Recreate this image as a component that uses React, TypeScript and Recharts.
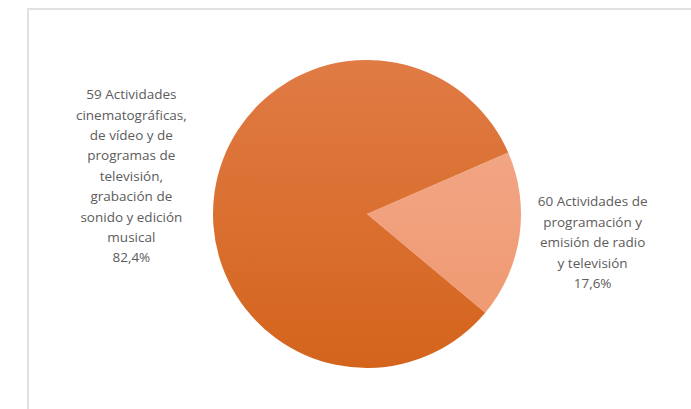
import { PieChart, Pie, Cell } from 'recharts'

const RADIAN = Math.PI / 180

const names = [
  '60 Actividades de programación y emisión de radio y televisión',
  '59 Actividades cinematográficas, de vídeo y de programas de televisión, grabación de sonido y edición musical',
]
const shares = [17.6, 82.4]
const labelLines = [
  ['60 Actividades de', 'programación y', 'emisión de radio', 'y televisión', '17,6%'],
  [
    '59 Actividades',
    'cinematográficas,',
    'de vídeo y de',
    'programas de',
    'televisión,',
    'grabación de',
    'sonido y edición',
    'musical',
    '82,4%',
  ],
]
const fills = ['url(#lightSlice)', 'url(#darkSlice)']

const chartData = names.map((name, i) => ({ name, value: shares[i] }))

const LINE_HEIGHT = 20.4

function renderLabel(props: any) {
  const { cx, cy, midAngle, outerRadius, index } = props
  const r = outerRadius + 79
  // small nudge up/left so the text block sits like the original
  const x = cx + r * Math.cos(-midAngle * RADIAN) - 5
  const y = cy + r * Math.sin(-midAngle * RADIAN) - 5
  const lines = labelLines[index]
  const top = y - ((lines.length - 1) / 2) * LINE_HEIGHT

  return (
    <text
      x={x}
      y={top}
      textAnchor="middle"
      dominantBaseline="central"
      fill="#5c5c5c"
      fontSize={13.5}
      fontFamily="'Open Sans', sans-serif"
    >
      {lines.map((line, i) => (
        <tspan key={i} x={x} y={top + i * LINE_HEIGHT}>
          {line}
        </tspan>
      ))}
    </text>
  )
}

export default function App() {
  return (
    <div
      style={{
        position: 'absolute',
        left: 0,
        top: 0,
        width: 691,
        height: 409,
        background: '#fff',
        overflow: 'hidden',
      }}
    >
      <div
        style={{
          position: 'absolute',
          left: 27,
          top: 8,
          right: 0,
          bottom: 0,
          borderTop: '2px solid #e1e1e1',
          borderLeft: '2px solid #e1e1e1',
        }}
      />
      <PieChart width={691} height={409} style={{ position: 'absolute', left: 0, top: 0 }}>
        <defs>
          <linearGradient id="darkSlice" x1="0" y1="0" x2="0" y2="1">
            <stop offset="0%" stopColor="#e07b45" />
            <stop offset="100%" stopColor="#d4641c" />
          </linearGradient>
          <linearGradient id="lightSlice" x1="0" y1="0" x2="0" y2="1">
            <stop offset="0%" stopColor="#f2a584" />
            <stop offset="100%" stopColor="#ef9a72" />
          </linearGradient>
        </defs>
        <Pie
          data={chartData}
          dataKey="value"
          nameKey="name"
          cx={362}
          cy={209}
          outerRadius={154}
          startAngle={23.5}
          endAngle={-336.5}
          stroke="none"
          label={renderLabel}
          labelLine={false}
          isAnimationActive={false}
        >
          {chartData.map((_, index) => (
            <Cell key={`cell-${index}`} fill={fills[index]} />
          ))}
        </Pie>
      </PieChart>
    </div>
  )
}
